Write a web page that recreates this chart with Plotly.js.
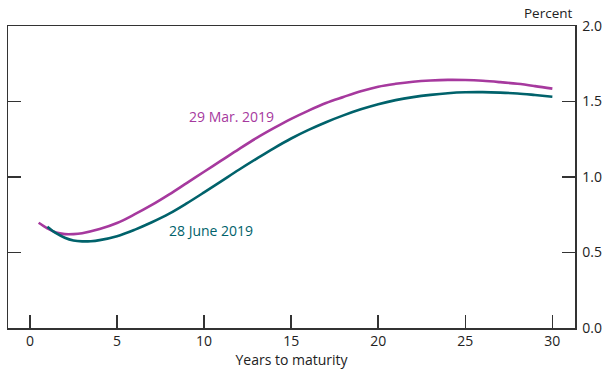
<!DOCTYPE html>
<html>
<head>
<meta charset="utf-8">
<script src="https://cdn.plot.ly/plotly-3.0.1.min.js"></script>
<style>html,body{margin:0;padding:0;background:#fff;}#chart{width:604px;height:373px;}</style>
</head>
<body>
<div id="chart"></div>
<script>
// 29 Mar. 2019 curve
const marYears = [0.5, 1, 1.5, 2, 2.5, 3, 4, 5, 6, 7, 8, 9, 10, 11, 12, 13, 14, 15, 16, 17, 18, 19, 20, 21, 22, 23, 24, 25, 26, 27, 28, 29, 30];
const marYields = [0.697, 0.66, 0.632, 0.622, 0.622, 0.628, 0.655, 0.695, 0.752, 0.815, 0.885, 0.96, 1.035, 1.11, 1.185, 1.257, 1.323, 1.385, 1.44, 1.49, 1.53, 1.568, 1.598, 1.617, 1.631, 1.639, 1.643, 1.642, 1.637, 1.628, 1.617, 1.602, 1.585];
// 28 June 2019 curve
const junYears = [1, 1.5, 2, 2.5, 3, 3.5, 4, 5, 6, 7, 8, 9, 10, 11, 12, 13, 14, 15, 16, 17, 18, 19, 20, 21, 22, 23, 24, 25, 26, 27, 28, 29, 30];
const junYields = [0.671, 0.628, 0.598, 0.58, 0.574, 0.575, 0.582, 0.608, 0.65, 0.7, 0.757, 0.825, 0.898, 0.973, 1.048, 1.12, 1.19, 1.255, 1.312, 1.363, 1.408, 1.448, 1.482, 1.509, 1.529, 1.544, 1.555, 1.561, 1.562, 1.559, 1.553, 1.543, 1.532];
const xTicks = [0, 5, 10, 15, 20, 25, 30];
const yTicks = [0, 0.5, 1, 1.5, 2];
const yTickText = ["0.0", "0.5", "1.0", "1.5", "2.0"];

const magenta = "rgb(166,57,158)";
const teal = "rgb(0,98,107)";
const font = "Open Sans, Noto Sans, sans-serif";

const data = [
  {x: marYears, y: marYields, type: "scatter", mode: "lines", line: {color: magenta, width: 2.6, shape: "spline", smoothing: 1}, hoverinfo: "skip"},
  {x: junYears, y: junYields, type: "scatter", mode: "lines", line: {color: teal, width: 2.6, shape: "spline", smoothing: 1}, hoverinfo: "skip"}
];

const layout = {
  width: 604, height: 373,
  margin: {l: 8, r: 29, t: 26, b: 45},
  paper_bgcolor: "#fff", plot_bgcolor: "#fff",
  showlegend: false,
  font: {family: font, size: 14, color: "#222"},
  xaxis: {
    range: [-1.26, 31.3], tickvals: xTicks, ticktext: xTicks.map(String),
    ticks: "inside", ticklen: 13, tickwidth: 1.5, tickcolor: "#333",
    showline: true, linecolor: "#333", linewidth: 1.5, mirror: true,
    showgrid: false, zeroline: false,
    tickfont: {family: font, size: 14, color: "#222"},
    title: {text: "Years to maturity", font: {family: font, size: 14, color: "#222"}, standoff: 5}
  },
  yaxis: {
    range: [0, 2], side: "right", tickvals: yTicks, ticktext: yTickText,
    ticks: "inside", ticklen: 13, tickwidth: 1.5, tickcolor: "#333",
    showline: true, linecolor: "#333", linewidth: 1.5, mirror: "ticks",
    showgrid: false, zeroline: false, ticklabelstandoff: 3,
    tickfont: {family: font, size: 14, color: "#222"}
  },
  annotations: [
    {xref: "paper", yref: "paper", x: 1, y: 1, xanchor: "right", yanchor: "bottom", yshift: 2, text: "Percent", showarrow: false, font: {family: font, size: 13.5, color: "#222"}},
    {xref: "x", yref: "y", x: 11.55, y: 1.404, text: "29 Mar. 2019", showarrow: false, font: {family: font, size: 14, color: magenta}},
    {xref: "x", yref: "y", x: 10.4, y: 0.649, text: "28 June 2019", showarrow: false, font: {family: font, size: 14, color: teal}}
  ]
};

Plotly.newPlot("chart", data, layout, {staticPlot: true, displayModeBar: false});
</script>
</body>
</html>
